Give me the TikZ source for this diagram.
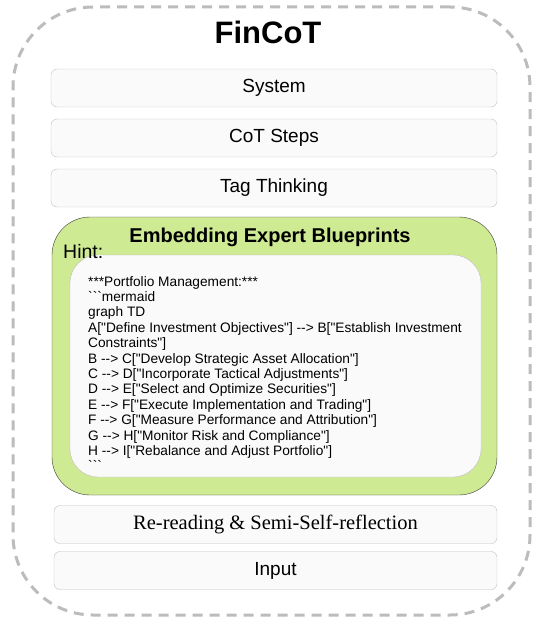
\documentclass[tikz,border=0pt]{standalone}
\usepackage{fontspec}
\setmainfont{Liberation Sans}
\newfontfamily\codefont{Liberation Sans}[Ligatures=TeXOff]
\newfontfamily\serifont{Liberation Serif}
\usepackage{tikz}
\usetikzlibrary{calc}
\usetikzlibrary{positioning}
\definecolor{dashgray}{RGB}{188,188,188}
\definecolor{boxgray}{RGB}{192,192,192}
\definecolor{boxfill}{RGB}{250,250,250}
\definecolor{hintgreen}{RGB}{206,234,146}
\definecolor{edgedark}{RGB}{60,60,60}

\begin{document}
\begin{tikzpicture}[x=1pt,y=-1pt]
\tikzset{frame/.style={draw=dashgray, line width=3pt, dash pattern=on 10pt off 7pt, rounded corners=80pt, minimum width=517pt, minimum height=608pt, inner sep=0pt}}
\tikzset{layer/.style={draw=boxgray, fill=boxfill, rounded corners=6pt, minimum width=446pt, minimum height=38pt, inner sep=0pt, font=\fontsize{19}{22}\selectfont}}
\tikzset{hintbox/.style={draw=edgedark, fill=hintgreen, rounded corners=38pt, minimum width=445pt, minimum height=278pt, inner sep=0pt}}
\tikzset{codebox/.style={draw=boxgray, fill=boxfill, rounded corners=28pt, minimum width=411pt, minimum height=222pt, inner sep=0pt}}
\useasboundingbox (0,0) rectangle (533,618);

\pgfmathsetmacro{\midx}{274}
\pgfmathsetmacro{\lowx}{275.5}

\node[frame] (frame) at (271.5,311) {};
\node[font=\fontsize{31}{36}\selectfont\bfseries, anchor=base] (title) at (268,44) {FinCoT};

\node[layer] (sys) at (\midx, 88) {System};
\node[layer] (cot) at (\midx, 138) {CoT Steps};
\node[layer] (tag) at (\midx, 188) {Tag Thinking};

% expert blueprint block
\node[hintbox] (blue) at (274.5, 356) {};
\node[font=\fontsize{20}{24}\selectfont\bfseries, anchor=base] (bluetitle) at (270,242) {Embedding Expert Blueprints};
\node[codebox] (code) at (275.5, 366) {};
\node[font=\fontsize{19.5}{23}\selectfont, anchor=base west, inner sep=0pt] (hint) at (63,258) {Hint:};
\node[anchor=north west, inner sep=0pt, align=left, font=\codefont\fontsize{13.7}{15.4}\selectfont] (steps) at (88,276) {%
***Portfolio Management:***\\
```mermaid\\
graph TD\\
A["Define Investment Objectives"] --> B["Establish Investment\\
Constraints"]\\
B --> C["Develop Strategic Asset Allocation"]\\
C --> D["Incorporate Tactical Adjustments"]\\
D --> E["Select and Optimize Securities"]\\
E --> F["Execute Implementation and Trading"]\\
F --> G["Measure Performance and Attribution"]\\
G --> H["Monitor Risk and Compliance"]\\
H --> I["Rebalance and Adjust Portfolio"]\\
```};

\node[layer, minimum width=443pt, font=\serifont\fontsize{20.5}{24}\selectfont] (reread) at (\lowx, 524.5) {Re-reading \& Semi-Self-reflection};
\node[layer, minimum width=443pt] (input) at (\lowx, 570.5) {Input};
\end{tikzpicture}
\end{document}
